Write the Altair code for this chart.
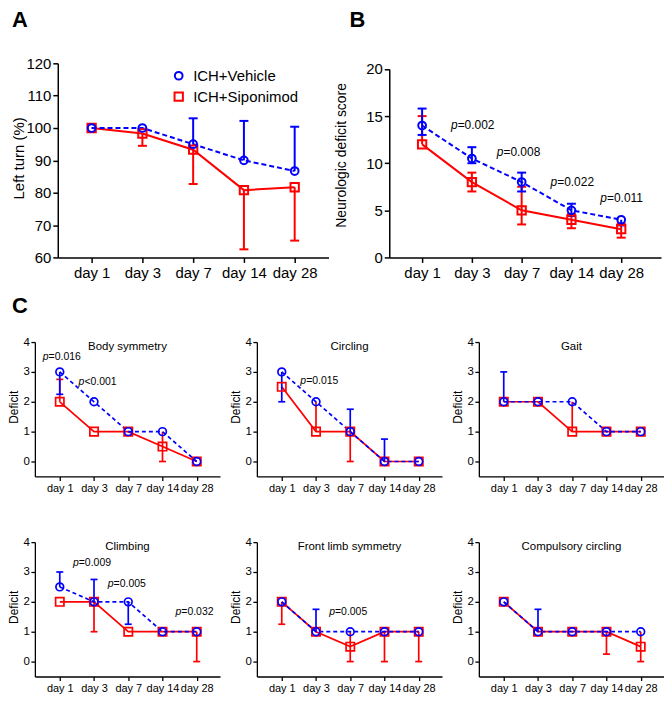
import json
import altair as alt
import pandas as pd

BLUE = "#0000FF"
RED = "#FF0000"
FONT = "Liberation Sans"

days = ["day 1", "day 3", "day 7", "day 14", "day 28"]
groups = ["ICH+Vehicle", "ICH+Siponimod"]

# ---------------- Panel A: left turn (%) ----------------
a_veh = [100, 100, 95, 90, 86.7]
a_veh_hi = [None, None, 103, 102.2, 100.4]
a_veh_lo = [None, None, None, None, None]
a_sip = [100, 98.3, 93.3, 80.8, 81.7]
a_sip_hi = [None, None, None, None, None]
a_sip_lo = [None, 94.5, 82.7, 62.5, 65.2]

# ---------------- Panel B: neurologic deficit score ----------------
b_veh = [14, 10.5, 8, 5, 4]
b_veh_hi = [15.8, 11.7, 9.0, 5.7, None]
b_veh_lo = [13.0, 10.0, 7.0, 4.4, 3.4]
b_sip = [12, 8, 5, 4, 3]
b_sip_hi = [15.0, 9.0, 7.5, 4.6, 3.6]
b_sip_lo = [None, 7.0, 3.5, 3.1, 2.1]
b_p_text = ["=0.002", "=0.008", "=0.022", "=0.011"]
b_p_x = [0.714, 1.634, 2.714, 3.714]
b_p_y = [14.05, 11.2, 8.03, 6.34]

# ---------------- Panel C: individual deficits ----------------
c_titles = ["Body symmetry", "Circling", "Gait",
            "Climbing", "Front limb symmetry", "Compulsory circling"]
c_veh = [
    [3, 2, 1, 1, 0],
    [3, 2, 1, 0, 0],
    [2, 2, 2, 1, 1],
    [2.5, 2, 2, 1, 1],
    [2, 1, 1, 1, 1],
    [2, 1, 1, 1, 1],
]
c_veh_hi = [
    [None, None, None, None, None],
    [None, None, 1.75, 0.75, None],
    [3, None, None, None, None],
    [3, 2.75, None, None, None],
    [None, 1.75, None, None, None],
    [None, 1.75, None, None, None],
]
c_veh_lo = [
    [2.25, None, None, None, None],
    [2, None, None, None, None],
    [None, None, None, None, None],
    [None, None, 1.25, None, None],
    [None, None, None, None, None],
    [None, None, None, None, None],
]
c_sip = [
    [2, 1, 1, 0.5, 0],
    [2.5, 1, 1, 0, 0],
    [2, 2, 1, 1, 1],
    [2, 2, 1, 1, 1],
    [2, 1, 0.5, 1, 1],
    [2, 1, 1, 1, 0.5],
]
c_sip_hi = [
    [2.75, None, None, 1, None],
    [None, 2, None, None, None],
    [None, None, 2, None, None],
    [None, None, None, None, None],
    [None, None, 1, None, None],
    [None, None, None, None, 1],
]
c_sip_lo = [
    [None, None, None, 0, None],
    [None, None, 0, None, None],
    [None, None, None, None, None],
    [None, 1, None, None, 0],
    [1.25, None, 0, 0, 0],
    [None, None, None, 0.25, 0],
]
c_p_text = [
    ["=0.016", "<0.001"],
    ["=0.015"],
    [],
    ["=0.009", "=0.005", "=0.032"],
    ["=0.005"],
    [],
]
c_p_x = [[-0.326, 0.72], [0.712], [], [0.555, 1.572, 3.549], [1.555], []]
c_p_y = [[3.5, 2.67], [2.69], [], [3.31, 2.59, 1.65], [1.65], []]

LABEL_EXPR = json.dumps(days) + "[datum.value]"


def series_df(vals, grp):
    return pd.DataFrame({"x": list(range(len(vals))), "y": vals, "group": grp})


def err_df(means, ends, other):
    rows = []
    for i, (m, e) in enumerate(zip(means, ends)):
        if e is None:
            continue
        rows.append({"x": i, "y": m, "e": e, "cap": e != other[i]})
    return pd.DataFrame(rows, columns=["x", "y", "e", "cap"])


def panel(veh, veh_hi, veh_lo, sip, sip_hi, sip_lo, *, width, height, xdom,
          ydom, yticks, ytitle, ytitle_x, ytitle_y, st, yrange=None,
          legend=None, ptext=(), px=(), py=(), title=None, letter=None,
          anchor=None):
    yscale = alt.Scale(domain=ydom, nice=False, zero=False)
    if yrange is not None:
        yscale = alt.Scale(domain=ydom, nice=False, zero=False, range=yrange)
    xscale = alt.Scale(domain=xdom, nice=False, zero=False)
    xaxis = alt.Axis(values=[0, 1, 2, 3, 4], labelExpr=LABEL_EXPR, title=None,
                     grid=False, tickSize=st["tick"], tickWidth=st["dw"],
                     domainWidth=st["dw"], labelFontSize=st["xlab"],
                     labelPadding=st["xpad"], labelOverlap=False,
                     labelFlush=False, domainColor="black", tickColor="black",
                     labelColor="black", labelFont=FONT)
    yaxis = alt.Axis(values=yticks, title=ytitle, grid=False,
                     tickSize=st["tick"], tickWidth=st["dw"],
                     domainWidth=st["dw"], labelFontSize=st["ylab"],
                     labelPadding=st["ypad"], titleFontSize=st["ytitle"],
                     titleX=ytitle_x, titleY=ytitle_y, titleAngle=270,
                     titleAlign="center", titleBaseline="middle",
                     titleFontWeight="normal", labelOverlap=False,
                     labelFlush=False, domainColor="black", tickColor="black",
                     labelColor="black", titleColor="black", labelFont=FONT,
                     titleFont=FONT)
    X = alt.X("x:Q", scale=xscale, axis=xaxis)

    def Y(f):
        return alt.Y(f, scale=yscale, axis=yaxis)

    lw = st["lw"]
    layers = []
    # Siponimod (red, solid)
    layers.append(alt.Chart(series_df(sip, groups[1])).mark_line(
        color=RED, strokeWidth=lw).encode(x=X, y=Y("y:Q")))
    for ends in (sip_hi, sip_lo):
        ed = err_df(sip, ends, veh)
        if len(ed):
            layers.append(alt.Chart(ed).mark_rule(color=RED, strokeWidth=lw)
                          .encode(x=X, y=Y("y:Q"), y2="e:Q"))
            cd = ed[ed["cap"]]
            if len(cd):
                layers.append(alt.Chart(cd).mark_rule(
                    color=RED, strokeWidth=lw, xOffset=-st["cap"] / 2,
                    x2Offset=st["cap"] / 2).encode(x=X, x2="x:Q", y=Y("e:Q")))
    # Vehicle (blue, dashed)
    layers.append(alt.Chart(series_df(veh, groups[0])).mark_line(
        color=BLUE, strokeWidth=lw, strokeDash=st["dash"]).encode(x=X, y=Y("y:Q")))
    for ends in (veh_hi, veh_lo):
        ed = err_df(veh, ends, sip)
        if len(ed):
            layers.append(alt.Chart(ed).mark_rule(color=BLUE, strokeWidth=lw)
                          .encode(x=X, y=Y("y:Q"), y2="e:Q"))
            cd = ed[ed["cap"]]
            if len(cd):
                layers.append(alt.Chart(cd).mark_rule(
                    color=BLUE, strokeWidth=lw, xOffset=-st["cap"] / 2,
                    x2Offset=st["cap"] / 2).encode(x=X, x2="x:Q", y=Y("e:Q")))
    # markers
    pts = pd.concat([series_df(sip, groups[1]), series_df(veh, groups[0])],
                    ignore_index=True)
    leg = legend
    layers.append(alt.Chart(pts).mark_point(
        filled=False, strokeWidth=lw, opacity=1).encode(
        x=X, y=Y("y:Q"),
        color=alt.Color("group:N", scale=alt.Scale(domain=groups, range=[BLUE, RED]),
                        legend=leg),
        shape=alt.Shape("group:N", scale=alt.Scale(domain=groups, range=["circle", "square"]),
                        legend=leg),
        size=alt.Size("group:N", scale=alt.Scale(domain=groups, range=[st["cs"], st["ss"]]),
                      legend=None),
    ))
    # p-values
    if len(ptext):
        pdf = pd.DataFrame({"x": list(px), "y": list(py), "t": list(ptext),
                            "p": ["p"] * len(ptext)})
        layers.append(alt.Chart(pdf).mark_text(
            font=FONT, fontSize=st["pfs"], fontStyle="italic", align="right",
            baseline="middle", color="black").encode(x=X, y=Y("y:Q"), text="p:N"))
        layers.append(alt.Chart(pdf).mark_text(
            font=FONT, fontSize=st["pfs"], align="left", baseline="middle",
            color="black").encode(x=X, y=Y("y:Q"), text="t:N"))
    if title is not None:
        layers.append(alt.Chart(pd.DataFrame({"t": [title]})).mark_text(
            font=FONT, fontSize=st["tfs"], align="center", baseline="middle",
            color="black").encode(x=alt.value(width / 2), y=alt.value(5), text="t:N"))
    if letter is not None:
        lt, lx, ly = letter
        layers.append(alt.Chart(pd.DataFrame({"t": [lt]})).mark_text(
            font=FONT, fontSize=22, fontWeight="bold", align="left",
            baseline="alphabetic", color="black").encode(
            x=alt.value(lx), y=alt.value(ly), text="t:N"))
    if anchor is not None:
        ax_, ay1, ay2 = anchor
        layers.append(alt.Chart(pd.DataFrame({"v": [0]})).mark_rule(
            opacity=0, strokeWidth=0.1).encode(
            x=alt.value(ax_), y=alt.value(ay1), y2=alt.value(ay2)))
    return alt.layer(*layers).properties(width=width, height=height)


big = dict(lw=2, tick=5, dw=1.5, xlab=15, ylab=15, xpad=3, ypad=2, ytitle=15,
           cap=9, dash=[5, 3], cs=60, ss=70, pfs=12, tfs=12)
small = dict(lw=1.7, tick=4, dw=1.3, xlab=11, ylab=11.5, xpad=2, ypad=1.5,
             ytitle=12, cap=7, dash=[4, 3], cs=36, ss=38, pfs=10.5, tfs=11.5)


def mk_legend(lx):
    return alt.Legend(orient="none", legendX=lx, legendY=5, title=None,
                      labelFontSize=15, labelFont=FONT, labelColor="black",
                      symbolSize=60, symbolStrokeWidth=2, rowPadding=4,
                      labelOffset=7, padding=0)


# page layout targets: A plot at (58,65), C rows at x=35, y=341.5 and 540
A = panel(a_veh, a_veh_hi, a_veh_lo, a_sip, a_sip_hi, a_sip_lo,
          width=272, height=195, xdom=[-0.667, 4.667], ydom=[60, 120],
          yticks=[60, 70, 80, 90, 100, 110, 120], ytitle="Left turn (%)",
          ytitle_x=-39.5, ytitle_y=95, st=big, legend=mk_legend(137),
          letter=("A", -46, -36), anchor=(-50, -53, 228))
bst = dict(big, ytitle=14)
B = panel(b_veh, b_veh_hi, b_veh_lo, b_sip, b_sip_hi, b_sip_lo,
          width=273, height=195, xdom=[-0.66, 4.8], ydom=[0, 20],
          yticks=[0, 5, 10, 15, 20], ytitle="Neurologic deficit score",
          ytitle_x=-47.5, ytitle_y=92, st=bst, yrange=[195, 5.7],
          legend=mk_legend(142), ptext=b_p_text, px=b_p_x, py=b_p_y,
          letter=("B", -40, -36))

c_anchor = {0: (-27, -51.5, 165.5), 3: (-27, -35, 100)}
cpanels = []
for k in range(6):
    cpanels.append(panel(
        c_veh[k], c_veh_hi[k], c_veh_lo[k], c_sip[k], c_sip_hi[k], c_sip_lo[k],
        width=186, height=135, xdom=[-0.727, 4.68], ydom=[-0.5, 4],
        yticks=[0, 1, 2, 3, 4], ytitle="Deficit", ytitle_x=-21, ytitle_y=65,
        st=small, ptext=c_p_text[k], px=c_p_x[k], py=c_p_y[k],
        title=c_titles[k], letter=("C", -23, -29.5) if k == 0 else None,
        anchor=c_anchor.get(k)))

spacer = alt.Chart(pd.DataFrame({"v": [0]})).mark_point(opacity=0).encode(
    x=alt.X("v:Q", axis=None), y=alt.Y("v:Q", axis=None)
).properties(width=23, height=10)

row1 = alt.hconcat(spacer, alt.hconcat(A, B, spacing=61, bounds="flush"),
                   spacing=0, bounds="flush")
rowc1 = alt.hconcat(*cpanels[:3], spacing=37, bounds="flush")
rowc2 = alt.hconcat(*cpanels[3:], spacing=37, bounds="flush")

chart = alt.vconcat(row1, rowc1, rowc2, spacing=0).properties(
    padding={"left": 0, "top": 0, "right": 0, "bottom": 0}
).configure(font=FONT).configure_view(stroke="transparent", strokeWidth=0)

chart.save("out.html", embed_options={"renderer": "svg", "actions": False})
